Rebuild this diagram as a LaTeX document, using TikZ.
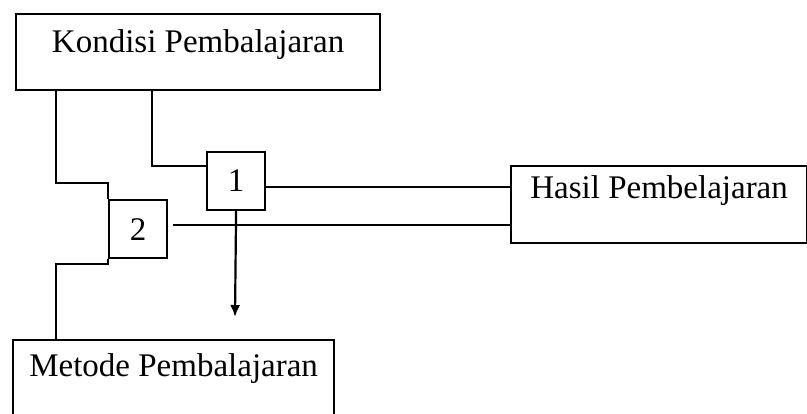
\documentclass[tikz,border=0pt]{standalone}
\usepackage{fontspec}
\setmainfont{Liberation Serif}
\usetikzlibrary{arrows.meta,positioning,calc}
\tikzset{>={Latex[length=6pt,width=5pt]}}

\begin{document}
\begin{tikzpicture}[x=0.5pt,y=-0.5pt,line width=1.1pt,
    every node/.style={font=\fontsize{16.5pt}{20pt}\selectfont},
    box/.style={draw, inner xsep=0pt, inner ysep=0pt, anchor=north west},
    numbox/.style={draw, inner sep=0pt, minimum width=29pt, minimum height=29pt, anchor=north west}]
    \useasboundingbox (0,0) rectangle (807,413);

    \node[box, minimum width=182pt, text height=19.25pt, text depth=18.5pt] (kp) at (15,13) {Kondisi Pembalajaran};
    \node[box, minimum width=148pt, text height=16pt, text depth=22.5pt] (hp) at (510,165) {Hasil Pembelajaran};
    \node[box, minimum width=160.5pt, text height=18pt, text depth=24pt] (mp) at (12,339) {Metode Pembalajaran};

    \node[numbox] (b1) at (206,151) {1};
    \node[numbox] (b2) at (108,199) {2};
    \coordinate (tip) at (235,317);

    \draw ([xshift=20.5pt]kp.south west) |- ([yshift=8pt]b2.north west) -- (b2.north west);
    \draw ([xshift=68.5pt]kp.south west) |- ([yshift=-7.5pt]b1.north west);
    \draw (b2.south west) -- ++(0,5) -| ([xshift=22pt]mp.north west);
    \draw ([yshift=-3pt]b1.east) -- ([yshift=-3pt]b1.east -| hp.west);
    \draw ([xshift=2.5pt,yshift=2pt]b2.east) -- ([yshift=2pt]b2.east -| hp.west);
    \draw[->] (b1.south) -- (tip);
\end{tikzpicture}
\end{document}
